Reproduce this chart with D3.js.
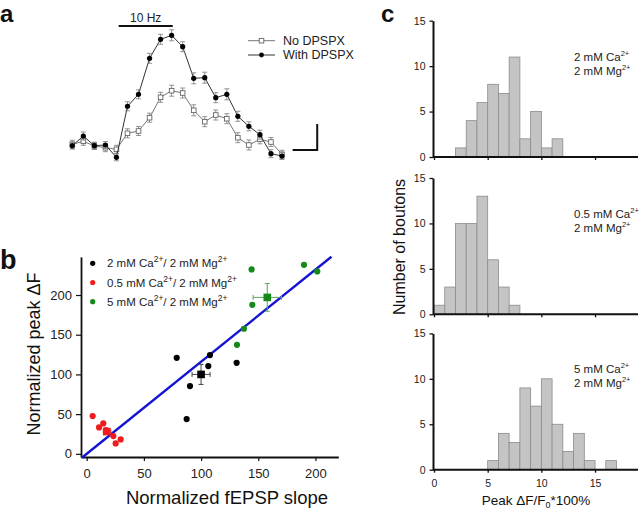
<!DOCTYPE html>
<html><head><meta charset="utf-8">
<script src="https://cdn.jsdelivr.net/npm/d3@7"></script>
<style>body{margin:0;background:#fff} svg{display:block;font-family:Arial,"Liberation Sans",Helvetica,sans-serif}</style>
</head><body><svg width="640" height="511"></svg>
<script>
// ---------------- DATA ----------------
// Panel a: time course (stimulus index), arbitrary ΔF units
const timeIdx   = [1,2,3,4,5,6,7,8,9,10,11,12,13,14,15,16,17,18,19,20];
const withDPSPX = [1.43,2.40,1.43,1.50,0.27,5.37,6.57,10.17,12.07,12.47,11.33,8.17,8.23,6.23,6.57,4.37,3.37,2.53,0.63,0.40];
const withErr   = [0.35,0.40,0.35,0.35,0.35,0.45,0.45,0.50,0.50,0.55,0.50,0.55,0.55,0.50,0.55,0.50,0.45,0.45,0.40,0.35];
const noDPSPX   = [1.57,1.87,1.40,1.23,1.07,2.67,2.90,4.23,6.27,6.93,6.70,4.97,3.83,4.50,4.13,2.23,1.50,2.07,1.80,0.57];
const noErr     = [0.40,0.40,0.35,0.40,0.40,0.45,0.45,0.45,0.50,0.55,0.50,0.55,0.50,0.50,0.50,0.50,0.50,0.45,0.45,0.40];
const stimWindow = [5.2, 10.1];
const seriesNames = ["No DPSPX", "With DPSPX"];

// Panel b: normalized fEPSP slope vs normalized peak ΔF
const ca2X  = [78.7,107.8,106.3,90.3,87.4,131.1];
const ca2Y  = [120.9,124.3,110.5,85.3,43.7,114.6];
const ca05X = [5.2,10.8,14.5,16.9,18.9,23.3,25.3,29.7];
const ca05Y = [47.5,33.2,38.3,29.8,28.6,22.3,13.1,18.1];
const ca5X  = [144.2,190.0,201.6,144.8,137.5,131.4];
const ca5Y  = [232.2,238.0,229.7,187.7,157.5,137.3];
const meanX   = [100, 17.5, 157.9];
const meanY   = [100, 28.0, 197.0];
const meanErrX= [7.9, 3.0, 12.4];
const meanErrY= [12.6, 3.5, 17.4];
const groupNames = ["2 mM Ca", "0.5 mM Ca", "5 mM Ca"];
const fitSlope = 1.16, fitRange = [-4, 214];
const bTicks = [0,50,100,150,200];

// Panel c: histograms, bin starts 0..18 (bin width 1)
const binStarts = [0,1,2,3,4,5,6,7,8,9,10,11,12,13,14,15,16,17,18];
const hist2mM   = [0,0,1,4,6,8,7,11,2,5,1,2,0,0,0,0,0,0,0];
const hist05mM  = [1,3,10,10,13,6,3,1,0,0,0,0,0,0,0,0,0,0,0];
const hist5mM   = [0,0,0,0,0,1,4,3,9,7,10,5,2,4,1,0,1,0,0];
const cYTicks = [0,5,10,15];
const cXTicks = [0,5,10,15];
const histLabels = ["2 mM Ca", "0.5 mM Ca", "5 mM Ca"];

// ---------------- DRAW ----------------
const svg = d3.select("svg");
const txt = "#222";

// panel letters
[["a",0,21.5],["b",0,269],["c",381,21.5]].forEach(([t,x,y])=>{
  svg.append("text").attr("x",x).attr("y",y).attr("font-size",t==="b"?27:24).attr("font-weight","bold").attr("fill","#111").text(t);
});

// ===== Panel a =====
const xA = d3.scaleLinear().domain([1,20]).range([72.3,282]);
const yA = d3.scaleLinear().domain([0,13]).range([160,30]);
const gA = svg.append("g");
gA.append("line").attr("x1",xA(stimWindow[0])).attr("x2",xA(stimWindow[1]))
  .attr("y1",26).attr("y2",26).attr("stroke","#111").attr("stroke-width",2);
gA.append("text").attr("x",(xA(stimWindow[0])+xA(stimWindow[1]))/2).attr("y",21.5)
  .attr("text-anchor","middle").attr("font-size",12).attr("fill",txt).text("10 Hz");

function drawSeries(vals, errs, filled){
  const pts = timeIdx.map((t,i)=>({x:xA(t), y:yA(vals[i]), e:errs[i], v:vals[i]}));
  gA.append("path").datum(pts).attr("fill","none")
    .attr("stroke", filled ? "#333" : "#777").attr("stroke-width",1)
    .attr("d", d3.line().x(d=>d.x).y(d=>d.y));
  const eb = gA.append("g").attr("stroke","#888").attr("stroke-width",0.9);
  pts.forEach(p=>{
    const y1=yA(p.v+p.e), y2=yA(p.v-p.e);
    eb.append("line").attr("x1",p.x).attr("x2",p.x).attr("y1",y1).attr("y2",y2);
    eb.append("line").attr("x1",p.x-2.5).attr("x2",p.x+2.5).attr("y1",y1).attr("y2",y1);
    eb.append("line").attr("x1",p.x-2.5).attr("x2",p.x+2.5).attr("y1",y2).attr("y2",y2);
  });
  pts.forEach(p=>{
    if(filled) gA.append("circle").attr("cx",p.x).attr("cy",p.y).attr("r",2.6).attr("fill","#000");
    else gA.append("rect").attr("x",p.x-2.3).attr("y",p.y-2.3).attr("width",4.6).attr("height",4.6)
      .attr("fill","#fff").attr("stroke","#666").attr("stroke-width",0.9);
  });
}
drawSeries(noDPSPX, noErr, false);
drawSeries(withDPSPX, withErr, true);

// legend a
seriesNames.forEach((n,i)=>{
  const y = 40.7 + i*14.3;
  gA.append("line").attr("x1",248).attr("x2",275).attr("y1",y).attr("y2",y)
    .attr("stroke", i? "#333":"#777").attr("stroke-width",1);
  if(i) gA.append("circle").attr("cx",261.5).attr("cy",y).attr("r",2.4).attr("fill","#000");
  else gA.append("rect").attr("x",259.2).attr("y",y-2.3).attr("width",4.6).attr("height",4.6).attr("fill","#fff").attr("stroke","#666").attr("stroke-width",0.9);
  gA.append("text").attr("x",283).attr("y",y+4.3).attr("font-size",12.5).attr("fill",txt).text(n);
});
const sbX = xA(23.19), sbY = yA(1.0);
gA.append("path").attr("d",`M${sbX-24.6},${sbY}H${sbX}V${sbY-26}`)
  .attr("fill","none").attr("stroke","#111").attr("stroke-width",2);

// ===== Panel b =====
const xB = d3.scaleLinear().domain([-5,220]).range([81,338.3]);
const yB = d3.scaleLinear().domain([-4,248]).range([457,256.9]);
const gB = svg.append("g");
const axL = gB.append("g").attr("transform","translate(81,0)")
  .call(d3.axisLeft(yB).tickValues(bTicks).tickSize(5).tickSizeOuter(0).tickPadding(4));
const axB = gB.append("g").attr("transform","translate(0,457)")
  .call(d3.axisBottom(xB).tickValues(bTicks).tickSize(4).tickSizeOuter(0).tickPadding(8));
[axL,axB].forEach(a=>{
  a.select(".domain").attr("stroke","#111").attr("stroke-width",1.8);
  a.selectAll(".tick line").attr("stroke","#111").attr("stroke-width",1.2);
  a.selectAll(".tick text").attr("font-size",13).attr("fill",txt).attr("font-family",null);
});
gB.append("text").attr("x",227).attr("y",504).attr("text-anchor","middle")
  .attr("font-size",18.5).attr("fill","#111").text("Normalized fEPSP slope");
gB.append("text").attr("transform","translate(40,354) rotate(-90)").attr("text-anchor","middle")
  .attr("font-size",18).attr("fill","#111").text("Normalized peak \u0394F");

gB.append("line").attr("x1",xB(fitRange[0])).attr("y1",yB(fitSlope*fitRange[0]))
  .attr("x2",xB(fitRange[1])).attr("y2",yB(fitSlope*fitRange[1]))
  .attr("stroke","#1414d2").attr("stroke-width",2.4);

const colors = ["#000","#ee1c1c","#16891a"];
const errColors = ["#444","#f07070","#5aa85c"];
const groups = [[ca2X,ca2Y],[ca05X,ca05Y],[ca5X,ca5Y]];
groups.forEach(([xs,ys],gi)=>{
  xs.forEach((x,i)=>{
    gB.append("circle").attr("cx",xB(x)).attr("cy",yB(ys[i])).attr("r",3.1).attr("fill",colors[gi]);
  });
});
meanX.forEach((mx,i)=>{
  const cx=xB(mx), cy=yB(meanY[i]);
  const x1=xB(mx-meanErrX[i]), x2=xB(mx+meanErrX[i]);
  const y1=yB(meanY[i]+meanErrY[i]), y2=yB(meanY[i]-meanErrY[i]);
  const e = gB.append("g").attr("stroke",errColors[i]).attr("stroke-width",1);
  e.append("line").attr("x1",x1).attr("x2",x2).attr("y1",cy).attr("y2",cy);
  e.append("line").attr("x1",cx).attr("x2",cx).attr("y1",y1).attr("y2",y2);
  e.append("line").attr("x1",x1).attr("x2",x1).attr("y1",cy-2.5).attr("y2",cy+2.5);
  e.append("line").attr("x1",x2).attr("x2",x2).attr("y1",cy-2.5).attr("y2",cy+2.5);
  e.append("line").attr("x1",cx-2.5).attr("x2",cx+2.5).attr("y1",y1).attr("y2",y1);
  e.append("line").attr("x1",cx-2.5).attr("x2",cx+2.5).attr("y1",y2).attr("y2",y2);
  gB.append("rect").attr("x",cx-3.8).attr("y",cy-3.8).attr("width",7.6).attr("height",7.6).attr("fill",colors[i]);
});
groupNames.forEach((n,i)=>{
  const y = 263.3 + i*19.2;
  gB.append("circle").attr("cx",92.7).attr("cy",y).attr("r",2.6).attr("fill",colors[i]);
  const t = gB.append("text").attr("x",107).attr("y",y+4).attr("font-size",11.5).attr("fill",txt);
  t.append("tspan").text(n);
  t.append("tspan").attr("dy",-5).attr("font-size",8.5).text("2+");
  t.append("tspan").attr("dy",5).text("/ 2 mM Mg");
  t.append("tspan").attr("dy",-5).attr("font-size",8.5).text("2+");
});

// ===== Panel c =====
const xC = d3.scaleLinear().domain([0,19]).range([434,638]);
const panels = [
  {data:hist2mM, bottom:157, label:histLabels[0]},
  {data:hist05mM, bottom:314.3, label:histLabels[1]},
  {data:hist5mM, bottom:469.7, label:histLabels[2]}
];
panels.forEach((p,pi)=>{
  const yC = d3.scaleLinear().domain([0,15]).range([p.bottom, p.bottom-136.3]);
  const g = svg.append("g");
  binStarts.forEach((b,i)=>{
    if(p.data[i]>0) g.append("rect").attr("x",xC(b)).attr("y",yC(p.data[i]))
      .attr("width",xC(b+1)-xC(b)).attr("height",yC(0)-yC(p.data[i]))
      .attr("fill","#c4c4c4").attr("stroke","#8c8c8c").attr("stroke-width",0.8);
  });
  const ay = g.append("g").attr("transform","translate(433,0)")
    .call(d3.axisLeft(yC).tickValues(cYTicks).tickSize(3.5).tickSizeOuter(0).tickPadding(4));
  const ax = g.append("g").attr("transform",`translate(0,${p.bottom})`)
    .call(d3.axisBottom(xC).tickValues(cXTicks).tickSize(3).tickSizeOuter(0).tickPadding(7)
      .tickFormat(pi===2 ? d3.format("d") : ()=>""));
  ax.select(".domain").attr("d",`M433,0H638`);
  [ay,ax].forEach(a=>{
    a.select(".domain").attr("stroke","#111").attr("stroke-width",2);
    a.selectAll(".tick line").attr("stroke","#111").attr("stroke-width",1.3);
    a.selectAll(".tick text").attr("font-size",10.5).attr("fill",txt).attr("font-family",null);
  });
  const top = p.bottom-136.3;
  const t1 = g.append("text").attr("x",574).attr("y",top+40).attr("font-size",11.5).attr("fill",txt);
  t1.append("tspan").text(p.label);
  t1.append("tspan").attr("dy",-5).attr("font-size",7.5).text("2+");
  const t2 = g.append("text").attr("x",574).attr("y",top+54).attr("font-size",11.5).attr("fill",txt);
  t2.append("tspan").text("2 mM Mg");
  t2.append("tspan").attr("dy",-5).attr("font-size",7.5).text("2+");
});
svg.append("text").attr("transform","translate(405,247) rotate(-90)").attr("text-anchor","middle")
  .attr("font-size",16).attr("fill","#111").text("Number of boutons");
const xl = svg.append("text").attr("x",536).attr("y",505).attr("text-anchor","middle")
  .attr("font-size",13.5).attr("fill","#111");
xl.append("tspan").text("Peak \u0394F/F");
xl.append("tspan").attr("dy",3).attr("font-size",9).text("0");
xl.append("tspan").attr("dy",-3).text("*100%");
</script></body></html>
